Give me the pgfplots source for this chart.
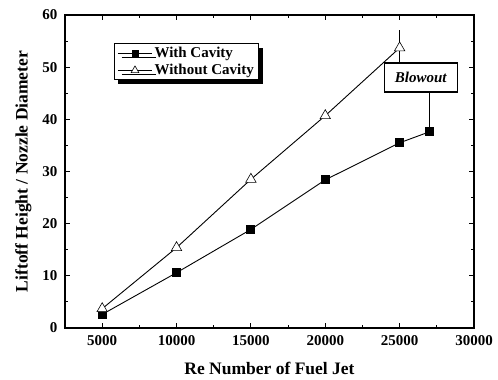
\documentclass[border=0pt]{standalone}
\usepackage{fontspec}
\setmainfont{Liberation Serif}
\usepackage{pgfplots}
\pgfplotsset{compat=1.18}
\usetikzlibrary{calc,shadows}
\begin{document}
\begin{tikzpicture}
\begin{axis}[
  scale only axis,
  width=409pt, height=313pt,
  xmin=2500, xmax=30000,
  ymin=0, ymax=60,
  xtick={5000,10000,15000,20000,25000,30000},
  ytick={0,10,20,30,40,50,60},
  minor x tick num=1, minor y tick num=1,
  tick align=inside,
  major tick length=5pt, minor tick length=3pt,
  axis line style={line width=1.1pt},
  every tick/.style={line width=0.9pt, black},
  /pgf/number format/assume math mode=true,
  scaled x ticks=false,
  ticklabel style={font=\bfseries\fontsize{15}{15}\selectfont},
  xticklabel style={yshift=-4pt,/pgf/number format/.cd,set thousands separator={},fixed},
  yticklabel style={xshift=-4pt},
  xlabel={Re Number of Fuel Jet},
  ylabel={Liftoff Height / Nozzle Diameter},
  label style={font=\bfseries\fontsize{17.5}{18}\selectfont},
  xlabel style={yshift=-10pt},
  ylabel style={yshift=4pt},
  legend style={at={(0.12,0.91)}, anchor=north west, draw=black, line width=0.8pt,
    font=\bfseries\fontsize{15}{16}\selectfont, fill=white,
    drop shadow={shadow xshift=4pt, shadow yshift=-4pt, fill=black, opacity=1},
    inner xsep=3pt, inner ysep=1.5pt, row sep=1.5pt},
  legend cell align=left,
  legend image code/.code={
    \draw[mark repeat=2,mark phase=2] plot coordinates {(0cm,0cm) (0.6cm,0cm) (1.2cm,0cm)};
  },
]
\addlegendimage{black, line width=0.9pt, mark=square*, mark size=3pt, mark options={solid,fill=black}}
\addlegendentry{With Cavity}
\addlegendimage{black, line width=0.9pt, mark=triangle*, mark size=4.5pt, mark options={solid,fill=white,line width=0.6pt}}
\addlegendentry{Without Cavity}
\addplot[forget plot, black, line width=0.9pt, mark=square*, mark size=4pt, mark options={solid,fill=black}]
  coordinates {(5000,2.6) (10000,10.6) (15000,18.9) (20000,28.4) (25000,35.5) (27000,37.6)};
\addplot[forget plot, black, line width=0.9pt, mark=triangle*, mark size=6pt, mark options={solid,fill=white,line width=0.6pt},
  error bars/.cd, y dir=both, y explicit, error mark=none, error bar style={line width=0.6pt}]
  coordinates {(5000,3.7) (10000,15.4) (15000,28.5) (20000,40.7) (25000,53.7) +- (0,3.4)};
\draw[line width=0.6pt] (axis cs:27000,37.6) -- (axis cs:27000,45.3);
\node[draw, line width=1.3pt, fill=white, minimum width=73pt, minimum height=29pt,
  font=\bfseries\itshape\fontsize{15}{16}\selectfont] at (axis cs:26424,48.0) {Blowout};
\end{axis}
\path ($(current axis.south west)+(-65pt,-52pt)$) rectangle ($(current axis.north east)+(24pt,15pt)$);
\end{tikzpicture}
\end{document}
